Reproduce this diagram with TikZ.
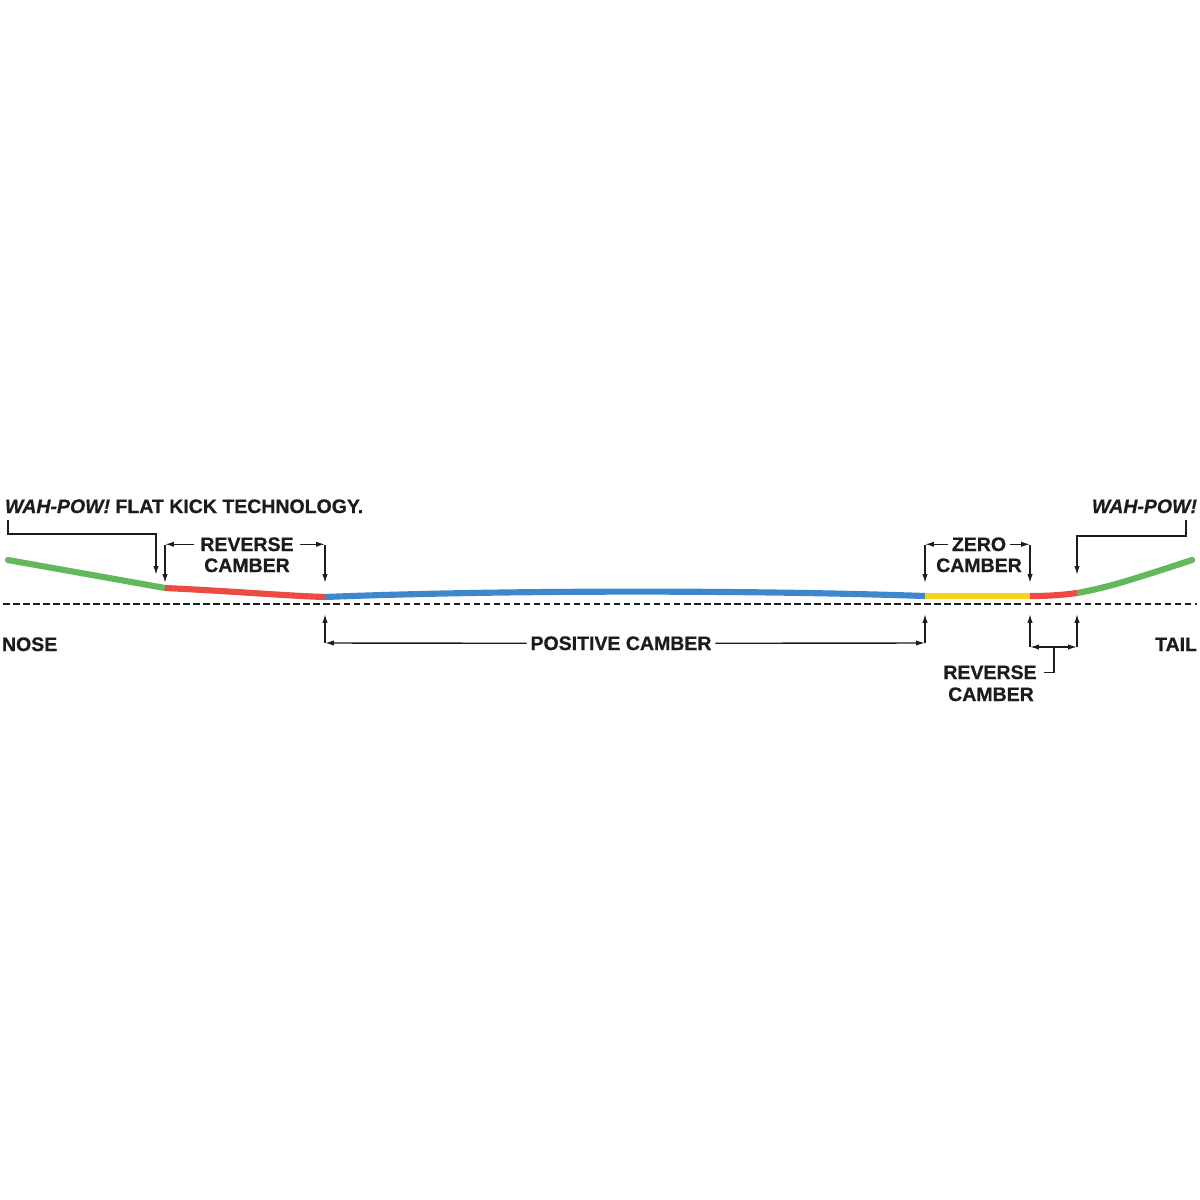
\documentclass[tikz,border=0pt]{standalone}
\usepackage{fontspec}
\setmainfont{Liberation Sans}[BoldFeatures={FakeBold=0.7}, BoldItalicFeatures={FakeBold=0.7}]
\usetikzlibrary{arrows.meta}
\definecolor{kickgreen}{HTML}{62B85A}
\definecolor{revred}{HTML}{EE4A44}
\definecolor{posblue}{HTML}{3D87CC}
\definecolor{zeroyellow}{HTML}{F7D417}
\definecolor{ink}{HTML}{1C1C1C}
\tikzset{
  board/.style={line width=3.5pt},
  dim/.style={ink, line width=0.8pt},
  tip/.style={dim, -{Latex[length=5pt,width=3pt]}},
  lbl/.style={ink, inner sep=0pt, outer sep=0pt, font=\bfseries\fontsize{11.1}{12}\selectfont},
}
\begin{document}
\begin{tikzpicture}[x=0.02cm, y=-0.02cm]
\useasboundingbox (0,0) rectangle (1200,1200);
\fill[white] (0,0) rectangle (1200,1200);
\coordinate (tip1) at (8,560);
\coordinate (k1) at (165,588);
\coordinate (k2) at (325,597);
\coordinate (k3) at (925,596);
\coordinate (k4) at (1030,596);
\coordinate (k5) at (1077,593);
\coordinate (tip2) at (1192,560);
\coordinate (top) at (0,545);
\coordinate (tipdn) at (0,583);
\coordinate (tipup) at (0,614);
\coordinate (low) at (0,643);
\coordinate (low2) at (0,647);
\coordinate (nosekick) at (156,575);
\coordinate (tailkick) at (1077,575);
\coordinate (mid) at (1054,647);
% ground line
\draw[ink, line width=1.2pt, dash pattern=on 3.7pt off 2pt] (3,604) -- (1197,604);
% board profile
\draw[board, kickgreen, line cap=round] (tip1) -- (k1);
\draw[board, kickgreen, line cap=round] (k5) .. controls (1105,588) and (1125,582) .. (tip2);
\draw[board, revred] (k1) .. controls (230,591) and (290,596) .. (k2);
\draw[board, posblue] (k2) .. controls (500,590) and (750,590) .. (k3);
\draw[board, zeroyellow] (k3) -- (k4);
\draw[board, revred] (k4) .. controls (1050,596) and (1062,595) .. (k5);
% labels
\node[lbl, anchor=base west] (wah1) at (5,513) {\itshape WAH-POW!\upshape{} FLAT KICK TECHNOLOGY.};
\node[lbl, anchor=base east] (wah2) at (1197,513) {\itshape WAH-POW!};
\node[lbl, anchor=base] (rev1) at (247,551) {REVERSE};
\node[lbl, anchor=base] (rev2) at (247,572) {CAMBER};
\node[lbl, anchor=base] (zero1) at (979,551) {ZERO};
\node[lbl, anchor=base] (zero2) at (979,572) {CAMBER};
\node[lbl, anchor=base] (pos) at (621,650) {POSITIVE CAMBER};
\node[lbl, anchor=base] (rev3) at (990,679) {REVERSE};
\node[lbl, anchor=base] (rev4) at (991,701) {CAMBER};
\node[lbl, anchor=base west] (nose) at (2,651) {NOSE};
\node[lbl, anchor=base east] (tail) at (1197,651) {TAIL};
% leaders
\draw[tip] ([shift={(3,7)}]wah1.base west) -- ++(0,14) -| (nosekick);
\draw[tip] ([shift={(-11,7)}]wah2.base east) -- ++(0,16) -| (tailkick);
% reverse camber, nose
\draw[tip] (k1 |- top) -- (k1 |- tipdn);
\draw[tip] (k2 |- top) -- (k2 |- tipdn);
\draw[tip] ([xshift=-0.12cm]rev1.west) -- (k1 |- rev1.west);
\draw[tip] ([xshift=0.12cm]rev1.east) -- (k2 |- rev1.east);
% positive camber
\draw[tip] (k2 |- low) -- (k2 |- tipup);
\draw[tip] (k3 |- low) -- (k3 |- tipup);
\draw[tip] ([xshift=-0.08cm]pos.west) -- (k2 |- low);
\draw[tip] ([xshift=0.08cm]pos.east) -- (k3 |- low);
% zero camber
\draw[tip] (k3 |- top) -- (k3 |- tipdn);
\draw[tip] (k4 |- top) -- (k4 |- tipdn);
\draw[tip] ([xshift=-0.08cm]zero1.west) -- (k3 |- zero1.west);
\draw[tip] ([xshift=0.08cm]zero1.east) -- (k4 |- zero1.east);
% reverse camber, tail
\draw[tip] (k4 |- low2) -- (k4 |- tipup);
\draw[tip] (k5 |- low2) -- (k5 |- tipup);
\draw[dim, {Latex[length=5pt,width=3pt]}-{Latex[length=5pt,width=3pt]}] (k4 |- low2) -- (k5 |- low2);
\draw[dim] (mid) |- ([xshift=0.14cm]rev3.east);
\end{tikzpicture}
\end{document}
